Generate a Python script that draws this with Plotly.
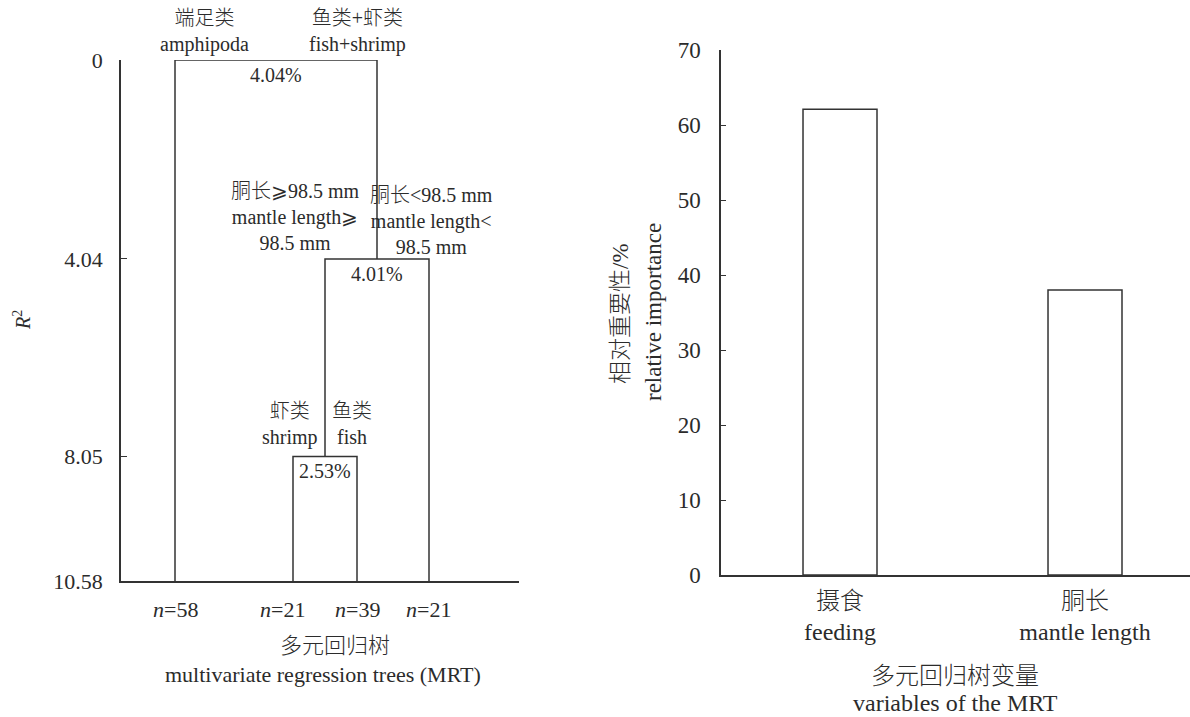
import plotly.graph_objects as go

# ---------------- data ----------------
# MRT: R2 gain explained at each split (%), in split order (root, node2, node3)
split_gain = [4.04, 4.01, 2.53]
split_names = ["4.04%", "4.01%", "2.53%"]
leaf_n = [58, 21, 39, 21]
y_ticks = [0, 4.04, 8.05, 10.58]
y_ticktext = ["0", "4.04", "8.05", "10.58"]

# relative importance of MRT variables
var_labels = ["摄食<br>feeding", "胴长<br>mantle length"]
var_importance = [62.1, 38.0]
rel_ticks = [0, 10, 20, 30, 40, 50, 60, 70]

# ---------------- layout helpers ----------------
W, H = 1190, 717
FONT = "Liberation Serif, Noto Sans CJK SC, serif"
INK = "#2b2b2b"
LINE = "#333333"

def px(x):
    return x / W

def py(y):
    return 1 - y / H

# left panel geometry (pixels)
L_X0, L_X1 = 121, 519
L_Y0, L_Y1 = 60, 581
# leaf horizontal positions (layout, in left-axis units)
leaf_x = [175, 293, 357, 429]

# cumulative R2 levels of the splits and the total
lvl = [0.0]
for g in split_gain:
    lvl.append(round(lvl[-1] + g, 2))
root_y, n2_y, n3_y, leaf_y = lvl[0], lvl[1], lvl[2], lvl[3]

n3_x = (leaf_x[1] + leaf_x[2]) / 2
n2_x = (n3_x + leaf_x[3]) / 2
root_x = (leaf_x[0] + n2_x) / 2

fig = go.Figure()

def seg(xs, ys):
    fig.add_trace(go.Scatter(x=xs, y=ys, mode="lines", xaxis="x", yaxis="y",
                             line=dict(color=LINE, width=1.5),
                             hoverinfo="skip", showlegend=False))

# root split: amphipoda vs (fish+shrimp)
seg([leaf_x[0], leaf_x[0], n2_x, n2_x], [leaf_y, root_y, root_y, n2_y])
# node2 split: mantle length
seg([n3_x, n3_x, leaf_x[3], leaf_x[3]], [n3_y, n2_y, n2_y, leaf_y])
# node3 split: shrimp vs fish
seg([leaf_x[1], leaf_x[1], leaf_x[2], leaf_x[2]], [leaf_y, n3_y, n3_y, leaf_y])

# right panel bars
fig.add_trace(go.Bar(x=[0, 1], y=var_importance, xaxis="x2", yaxis="y2",
                     width=0.302, marker=dict(color="white", line=dict(color=LINE, width=1.5)),
                     hoverinfo="skip", showlegend=False))

annotations = []

def ann(text, x, y, size, xref="paper", yref="paper", xanchor="center", yanchor="middle",
        angle=0, yshift=0):
    annotations.append(dict(text=text, x=x, y=y, xref=xref, yref=yref, xanchor=xanchor,
                            yanchor=yanchor, showarrow=False, textangle=angle, yshift=yshift,
                            font=dict(family=FONT, size=size, color=INK, weight=300)))

# split gain labels under each split bar
for (nx, ny), t in zip([(root_x, root_y), (n2_x, n2_y), (n3_x, n3_y)], split_names):
    ann(t, nx, ny, 20, xref="x", yref="y", yanchor="top", yshift=-2)

# branch labels
ann("端足类<br>amphipoda", px(204), py(31), 20)
ann("鱼类+虾类<br>fish+shrimp", px(357), py(31), 20)
ann("胴长⩾98.5 mm<br>mantle length⩾<br>98.5 mm", px(295), py(217), 20)
ann("胴长&lt;98.5 mm<br>mantle length&lt;<br>98.5 mm", px(431), py(221), 20)
ann("虾类<br>shrimp", px(290), py(424), 20)
ann("鱼类<br>fish", px(352), py(424), 20)

# leaf sizes
n_label_x = [175, 282, 357, 428]
for xx, n in zip(n_label_x, leaf_n):
    ann(f"<i>n</i>={n}", px(xx), py(609), 22)

ann("多元回归树", px(335), py(645), 22)
ann("multivariate regression trees (MRT)", px(323), py(674), 22)
ann("<i>R</i><sup>2</sup>", px(22), py(320), 20, angle=-90)

# right panel titles
ann("相对重要性/%", px(621), py(314), 23, angle=-90)
ann("relative importance", px(653), py(312), 23, angle=-90)
ann("多元回归树变量", px(955), py(676), 24)
ann("variables of the MRT", px(955), py(703), 24)

R_X0, R_X1 = 721, 1190
R_Y0, R_Y1 = 50, 575
bar_c0, bar_c1 = 840, 1085
k = bar_c1 - bar_c0
xr0 = -(bar_c0 - R_X0) / k
xr1 = xr0 + (R_X1 - R_X0) / k

fig.update_layout(
    width=W, height=H,
    margin=dict(l=0, r=0, t=0, b=0, autoexpand=False),
    paper_bgcolor="white", plot_bgcolor="white",
    font=dict(family=FONT, color=INK, weight=300),
    showlegend=False,
    annotations=annotations,
    xaxis=dict(domain=[px(L_X0), px(L_X1)], range=[L_X0, L_X1], showgrid=False,
               zeroline=False, showticklabels=False, ticks="", showline=True,
               linecolor=LINE, linewidth=1.5, anchor="y", automargin=False),
    yaxis=dict(domain=[py(L_Y1), py(L_Y0)], range=[leaf_y, 0], showgrid=False,
               zeroline=False, tickvals=y_ticks, ticktext=y_ticktext, ticks="inside",
               ticklen=6, tickcolor=LINE, tickwidth=1.2, showline=True, linecolor=LINE,
               linewidth=1.5, tickfont=dict(size=22, family=FONT, color=INK),
               ticklabelstandoff=12, anchor="x", automargin=False),
    xaxis2=dict(domain=[px(R_X0), 1.0], range=[xr0, xr1], showgrid=False, zeroline=False,
                tickvals=[0, 1], ticktext=var_labels, ticks="", showline=True,
                linecolor=LINE, linewidth=1.5,
                tickfont=dict(size=24, family=FONT, color=INK, weight=300),
                ticklabelstandoff=3, anchor="y2", automargin=False),
    yaxis2=dict(domain=[py(R_Y1), py(R_Y0)], range=[0, 70], showgrid=False, zeroline=False,
                tickvals=rel_ticks, ticks="inside", ticklen=5, tickcolor=LINE, tickwidth=1.2,
                showline=True, linecolor=LINE, linewidth=1.5,
                tickfont=dict(size=23, family=FONT, color=INK), ticklabelstandoff=14,
                anchor="x2", automargin=False),
)

fig.write_html("out.html")
